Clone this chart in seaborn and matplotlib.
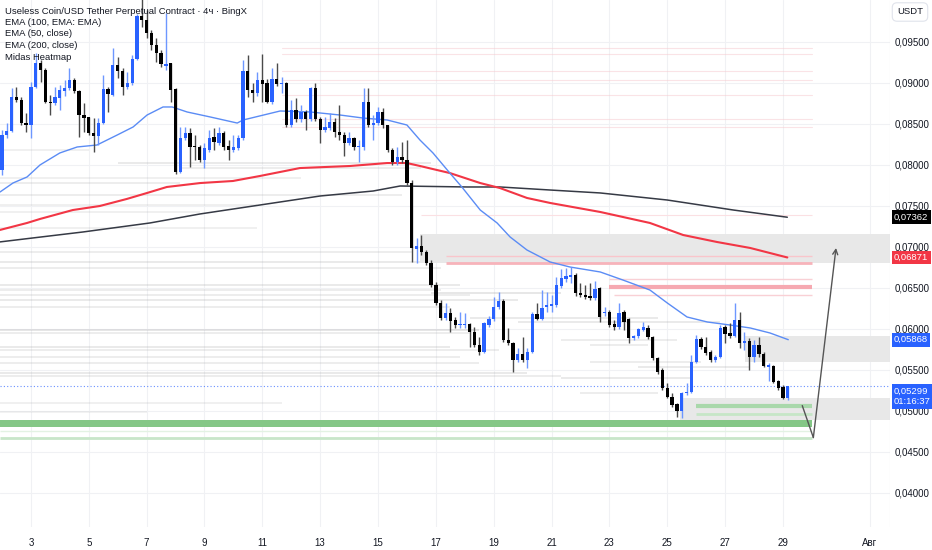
import numpy as np
import pandas as pd
import matplotlib
matplotlib.use("Agg")
import matplotlib.pyplot as plt
import seaborn as sns
from matplotlib.ticker import FuncFormatter

sns.set_style("white")
plt.rcParams['font.family'] = ['Liberation Sans', 'DejaVu Sans']

# ---- 4h candles, day 2 00:00 .. day 29 04:00 ----
opens = [
    0.07938, 0.08365, 0.08414, 0.08829, 0.08792, 0.08511, 0.08487, 0.08951, 0.09243, 0.09158,
    0.08768, 0.08756, 0.08816, 0.08902, 0.08938, 0.09036, 0.08902, 0.08609, 0.08585, 0.08389,
    0.08353, 0.08511, 0.08926, 0.08853, 0.09219, 0.09146, 0.08951, 0.09000, 0.09292, 0.09817,
    0.09768, 0.09609, 0.09463, 0.09365, 0.09207, 0.09243, 0.08926, 0.07914, 0.08328, 0.08389,
    0.08231, 0.08219, 0.08060, 0.08182, 0.08341, 0.08267, 0.08389, 0.08231, 0.08182, 0.08206,
    0.08328, 0.09146, 0.08914, 0.08877, 0.09036, 0.09000, 0.08768, 0.09048, 0.08987, 0.09000,
    0.08487, 0.08670, 0.08560, 0.08646, 0.08560, 0.08938, 0.08560, 0.08426, 0.08450, 0.08524,
    0.08402, 0.08365, 0.08267, 0.08328, 0.08219, 0.08219, 0.08768, 0.08487, 0.08511, 0.08646,
    0.08487, 0.08182, 0.08036, 0.08097, 0.08060, 0.07779, 0.06974, 0.07011, 0.06938, 0.06804,
    0.06535, 0.06316, 0.06133, 0.06194, 0.06108, 0.06047, 0.06047, 0.06060, 0.05962, 0.05803,
    0.05718, 0.06047, 0.06120, 0.06267, 0.06340, 0.05864, 0.05828, 0.05620, 0.05694, 0.05620,
    0.05718, 0.06181, 0.06120, 0.06267, 0.06279, 0.06291, 0.06523, 0.06608, 0.06633, 0.06657,
    0.06438, 0.06413, 0.06401, 0.06377, 0.06499, 0.06194, 0.06206, 0.06060, 0.06023, 0.06206,
    0.06120, 0.05889, 0.05913, 0.05986, 0.06011, 0.05901, 0.05645, 0.05498, 0.05279, 0.05169,
    0.05084, 0.04998, 0.05218, 0.05230, 0.05596, 0.05876, 0.05779, 0.05718, 0.05620, 0.05657,
    0.06023, 0.05950, 0.05913, 0.06108, 0.05828, 0.05852, 0.05657, 0.05803, 0.05694, 0.05535,
    0.05547, 0.05364, 0.05291, 0.05157]
closes = [
    0.08365, 0.08414, 0.08829, 0.08792, 0.08511, 0.08487, 0.08951, 0.09243, 0.09158, 0.08768,
    0.08756, 0.08829, 0.08914, 0.08938, 0.09036, 0.08902, 0.08609, 0.08572, 0.08389, 0.08353,
    0.08511, 0.08926, 0.08865, 0.09219, 0.09146, 0.08951, 0.09000, 0.09292, 0.09817, 0.09768,
    0.09609, 0.09463, 0.09365, 0.09231, 0.09231, 0.08914, 0.07914, 0.08328, 0.08389, 0.08219,
    0.08219, 0.08060, 0.08206, 0.08328, 0.08280, 0.08389, 0.08219, 0.08182, 0.08219, 0.08328,
    0.09146, 0.08914, 0.08877, 0.09036, 0.08987, 0.08768, 0.09048, 0.08987, 0.09000, 0.08487,
    0.08670, 0.08560, 0.08646, 0.08560, 0.08938, 0.08560, 0.08426, 0.08463, 0.08524, 0.08402,
    0.08365, 0.08267, 0.08328, 0.08219, 0.08231, 0.08768, 0.08487, 0.08511, 0.08646, 0.08487,
    0.08182, 0.08036, 0.08097, 0.08060, 0.07779, 0.06987, 0.07011, 0.06938, 0.06804, 0.06535,
    0.06316, 0.06133, 0.06194, 0.06096, 0.06047, 0.06060, 0.06060, 0.05962, 0.05803, 0.05718,
    0.06072, 0.06120, 0.06267, 0.06340, 0.05864, 0.05828, 0.05620, 0.05694, 0.05620, 0.05718,
    0.06181, 0.06120, 0.06255, 0.06291, 0.06304, 0.06535, 0.06621, 0.06645, 0.06657, 0.06438,
    0.06413, 0.06389, 0.06377, 0.06486, 0.06145, 0.06206, 0.06047, 0.06023, 0.06194, 0.06084,
    0.05889, 0.05913, 0.05999, 0.06023, 0.05901, 0.05645, 0.05474, 0.05279, 0.05169, 0.05071,
    0.04998, 0.05218, 0.05230, 0.05596, 0.05876, 0.05779, 0.05706, 0.05620, 0.05657, 0.06011,
    0.05938, 0.05913, 0.06108, 0.05828, 0.05852, 0.05657, 0.05803, 0.05694, 0.05547, 0.05559,
    0.05352, 0.05279, 0.05157, 0.05299]
highs = [
    0.08426, 0.08511, 0.08938, 0.08951, 0.08829, 0.08633, 0.09012, 0.09365, 0.09280, 0.09182,
    0.08853, 0.08951, 0.08975, 0.09036, 0.09182, 0.09060, 0.08914, 0.08756, 0.08585, 0.08572,
    0.08572, 0.09097, 0.08951, 0.09426, 0.09316, 0.09182, 0.09134, 0.09341, 0.09841, 0.10050,
    0.09890, 0.09646, 0.09548, 0.09402, 0.09853, 0.09243, 0.08938, 0.08463, 0.08463, 0.08450,
    0.08365, 0.08243, 0.08267, 0.08426, 0.08450, 0.08463, 0.08414, 0.08304, 0.08365, 0.08365,
    0.09280, 0.09341, 0.09000, 0.09134, 0.09353, 0.09048, 0.09182, 0.09243, 0.09073, 0.09012,
    0.08792, 0.08816, 0.08731, 0.08670, 0.08951, 0.09000, 0.08585, 0.08585, 0.08633, 0.08572,
    0.08731, 0.08402, 0.08402, 0.08341, 0.08304, 0.08938, 0.08938, 0.08609, 0.08707, 0.08694,
    0.08487, 0.08206, 0.08219, 0.08280, 0.08304, 0.07816, 0.07108, 0.07145, 0.06962, 0.06840,
    0.06572, 0.06352, 0.06316, 0.06255, 0.06145, 0.06206, 0.06194, 0.06072, 0.06023, 0.05901,
    0.06084, 0.06157, 0.06389, 0.06450, 0.06364, 0.06011, 0.05840, 0.05767, 0.05901, 0.05767,
    0.06206, 0.06316, 0.06474, 0.06450, 0.06413, 0.06633, 0.06730, 0.06743, 0.06755, 0.06682,
    0.06560, 0.06535, 0.06560, 0.06584, 0.06511, 0.06267, 0.06230, 0.06108, 0.06316, 0.06230,
    0.06133, 0.05925, 0.06011, 0.06084, 0.06047, 0.05913, 0.05657, 0.05523, 0.05340, 0.05218,
    0.05096, 0.05230, 0.05340, 0.05681, 0.05925, 0.05901, 0.05901, 0.05742, 0.05681, 0.06047,
    0.06047, 0.06072, 0.06316, 0.06206, 0.05962, 0.05889, 0.05864, 0.05901, 0.05718, 0.05584,
    0.05559, 0.05376, 0.05316, 0.05303]
lows = [
    0.07877, 0.08328, 0.08402, 0.08768, 0.08487, 0.08402, 0.08328, 0.08938, 0.09012, 0.08756,
    0.08609, 0.08731, 0.08670, 0.08841, 0.08914, 0.08877, 0.08341, 0.08402, 0.08365, 0.08158,
    0.08243, 0.08499, 0.08646, 0.08841, 0.09060, 0.08853, 0.08926, 0.08975, 0.09280, 0.09683,
    0.09548, 0.09402, 0.09256, 0.09195, 0.09158, 0.08768, 0.07889, 0.07901, 0.08304, 0.07975,
    0.08060, 0.08036, 0.07962, 0.08158, 0.08182, 0.08243, 0.08182, 0.08060, 0.08158, 0.08182,
    0.08304, 0.08829, 0.08768, 0.08841, 0.08768, 0.08756, 0.08743, 0.08963, 0.08877, 0.08463,
    0.08463, 0.08524, 0.08524, 0.08426, 0.08536, 0.08536, 0.08267, 0.08402, 0.08426, 0.08341,
    0.08304, 0.08109, 0.08243, 0.08182, 0.08036, 0.08182, 0.08463, 0.08304, 0.08487, 0.08450,
    0.08158, 0.07999, 0.07999, 0.08023, 0.07755, 0.06816, 0.06804, 0.06901, 0.06779, 0.06511,
    0.06291, 0.06108, 0.06108, 0.05962, 0.06011, 0.06011, 0.06011, 0.05779, 0.05779, 0.05681,
    0.05706, 0.06023, 0.06096, 0.06243, 0.05840, 0.05803, 0.05474, 0.05596, 0.05596, 0.05523,
    0.05706, 0.06108, 0.06108, 0.06206, 0.06206, 0.06267, 0.06499, 0.06572, 0.06560, 0.06401,
    0.06389, 0.06364, 0.06352, 0.06352, 0.06084, 0.06157, 0.06023, 0.05986, 0.05999, 0.05986,
    0.05828, 0.05864, 0.05889, 0.05974, 0.05877, 0.05620, 0.05450, 0.05254, 0.05157, 0.05047,
    0.04925, 0.04913, 0.05193, 0.05218, 0.05584, 0.05755, 0.05681, 0.05596, 0.05596, 0.05645,
    0.05828, 0.05889, 0.05901, 0.05767, 0.05742, 0.05498, 0.05596, 0.05657, 0.05535, 0.05364,
    0.05340, 0.05254, 0.05145, 0.05132]

# ---- moving averages (candle index / price) ----
ema50_x = [-0.4, 2.3, 5.2, 7.9, 12.0, 15.6, 19.7, 23.9, 27.2, 30.1, 33.4, 35.3, 38.4, 43.2,
           48.8, 50.0, 57.7, 63.9, 70.1, 74.9, 79.9, 84.0, 86.7, 89.4, 92.9, 95.4, 99.2,
           102.7, 105.4, 108.9, 113.7, 117.8, 124.1, 128.8, 134.4, 138.0, 142.1, 146.3,
           151.0, 155.2, 159.3, 163.1]
ema50_y = [0.07670, 0.07780, 0.07853, 0.08000, 0.08146, 0.08219, 0.08243, 0.08365, 0.08463,
           0.08609, 0.08707, 0.08707, 0.08646, 0.08585, 0.08511, 0.08548, 0.08658, 0.08646,
           0.08609, 0.08572, 0.08548, 0.08487, 0.08304, 0.08146, 0.07901, 0.07730, 0.07450,
           0.07292, 0.07121, 0.06962, 0.06816, 0.06755, 0.06694, 0.06596, 0.06474, 0.06316,
           0.06145, 0.06084, 0.06047, 0.06011, 0.05950, 0.05868]
ema_red_x = [-0.4, 5.2, 7.9, 14.7, 20.3, 25.9, 30.1, 34.2, 41.1, 47.9, 53.5, 61.8, 72.2,
             79.9, 84.0, 86.7, 92.9, 99.2, 103.3, 108.9, 113.7, 124.1, 134.4, 141.3,
             148.3, 155.2, 162.9]
ema_red_y = [0.07207, 0.07292, 0.07341, 0.07450, 0.07499, 0.07585, 0.07658, 0.07731, 0.07779,
             0.07804, 0.07865, 0.07962, 0.07987, 0.08023, 0.08023, 0.07987, 0.07901, 0.07779,
             0.07718, 0.07597, 0.07536, 0.07426, 0.07292, 0.07145, 0.07060, 0.06987, 0.06871]
ema_blk_x = [-0.4, 6.4, 16.8, 30.7, 41.1, 53.5, 66.0, 77.0, 82.6, 96.5, 103.3, 113.7, 124.1,
             138.0, 151.7, 162.9]
ema_blk_y = [0.07061, 0.07109, 0.07182, 0.07292, 0.07402, 0.07511, 0.07621, 0.07682, 0.07743,
             0.07731, 0.07731, 0.07694, 0.07658, 0.07572, 0.07450, 0.07362]

# ---- heatmap levels (price, from, to, strength) ----
hm_level = [0.08182, 0.08024, 0.07963, 0.07841, 0.07780, 0.07633, 0.07511, 0.07426, 0.07231,
            0.06939, 0.06817, 0.06744, 0.06537, 0.06476, 0.06415, 0.06354, 0.06268, 0.05988,
            0.05951, 0.05780, 0.05744, 0.05658, 0.05585, 0.05463, 0.05426, 0.06439, 0.06134,
            0.06085, 0.05866, 0.05805, 0.05598, 0.05537, 0.05402, 0.05219, 0.05097, 0.04987]
hm_from = [-0.4, 24, 37, -0.4, -0.4, -0.4, -0.4, -0.4, -0.4, -0.4, -0.4, -0.4, -0.4, -0.4,
           -0.4, -0.4, -0.4, -0.4, -0.4, -0.4, -0.4, -0.4, -0.4, -0.4, -0.4, 89, 97, 107,
           116, 122, 122, 132, 116, 120, -0.4, -0.4]
hm_to = [18, 89, 87, 62, 37, 83, 53, 41, 53, 85, 89, 91, 95, 91, 97, 107, 93, 99, 97, 93,
         103, 95, 99, 109, 116, 116, 136, 149, 140, 134, 145, 155, 143, 136, 58, 30]
hm_alpha = [0.25, 0.35, 0.3, 0.25, 0.3, 0.3, 0.25, 0.25, 0.25, 0.3, 0.35, 0.3, 0.35, 0.3,
            0.3, 0.35, 0.3, 0.4, 0.3, 0.35, 0.3, 0.3, 0.3, 0.35, 0.3, 0.4, 0.35, 0.35, 0.3,
            0.3, 0.3, 0.35, 0.35, 0.3, 0.25, 0.2]
pink_faint = [0.09427, 0.09353, 0.09146, 0.09036, 0.08853, 0.08560, 0.08463]

# ---- zones ----
zone_lo = [0.06804, 0.05596, 0.04888]
zone_hi = [0.07157, 0.05913, 0.05157]
zone_from = [86.7, 154.1, 140.7]
pink_level = [0.07389, 0.06889, 0.06804, 0.06608, 0.06511, 0.06413]
pink_from = [87, 92, 92, 126, 126, 127]
pink_lw = [0.8, 1.0, 2.0, 1.0, 3.0, 1.0]
pink_col = ['#fbe0e3', '#f9c5cb', '#f7b3ba', '#f9d0d5', '#f6a9b1', '#f9d0d5']
green_band = (0.04803, 0.04888)
green_level = [0.05059, 0.04961, 0.04754, 0.04669]
green_from = [144, 144, -0.4, -0.4]
green_lw = [3.0, 2.0, 1.0, 2.0]
green_col = ['#a9d8ab', '#c6e6c7', '#e3f2e3', '#c8e6c9']
lines_to = 168

arrow_x = [166.0, 168.3, 173.0]
arrow_y = [0.05064, 0.04674, 0.06987]

last_price = 0.05299
days = list(range(3, 30, 2))
day_pos = [(d - 2) * 6 for d in days]
aug_pos = 180

df = pd.DataFrame({"o": opens, "h": highs, "l": lows, "c": closes})
df["i"] = np.arange(len(df))
up = df["c"] >= df["o"]

fig = plt.figure(figsize=(9.32, 5.5), dpi=100)
ax = fig.add_axes([0, 23 / 550, 890 / 932, 527 / 550])
XMIN, XMAX = -0.41, 184.2
ax.set_xlim(XMIN, XMAX)
ax.set_ylim(0.03583, 0.10012)

# grid
for p in day_pos + [aug_pos]:
    ax.axvline(p, color='#f0f1f4', lw=0.8, zorder=0)
for v in np.arange(0.040, 0.0951, 0.005):
    ax.axhline(v, color='#f0f1f4', lw=0.8, zorder=0)

# heatmap
for lv, a, b, al in zip(hm_level, hm_from, hm_to, hm_alpha):
    ax.plot([a, b], [lv, lv], color='#a8a8a8', lw=1.3, alpha=al * 0.75, zorder=1,
            solid_capstyle='butt')
for lv in pink_faint:
    ax.plot([58, lines_to], [lv, lv], color='#f7c9ce', lw=0.8, alpha=0.5, zorder=1)

# zones
for lo, hi, a in zip(zone_lo, zone_hi, zone_from):
    ax.fill_between([a, XMAX], lo, hi, color='#e8e8e8', lw=0, zorder=2)
for lv, a, w, c in zip(pink_level, pink_from, pink_lw, pink_col):
    ax.plot([a, lines_to], [lv, lv], color=c, lw=w, zorder=3, solid_capstyle='butt')
ax.fill_between([XMIN, lines_to], green_band[0], green_band[1], color='#84c786', lw=0, zorder=3)
for lv, a, w, c in zip(green_level, green_from, green_lw, green_col):
    ax.plot([a, lines_to], [lv, lv], color=c, lw=w, zorder=3, solid_capstyle='butt')

# EMAs
sns.lineplot(x=ema_blk_x, y=ema_blk_y, ax=ax, color='#363a45', lw=1.1, sort=False,
             estimator=None, zorder=4)
sns.lineplot(x=ema_red_x, y=ema_red_y, ax=ax, color='#f23645', lw=1.5, sort=False,
             estimator=None, zorder=4)
sns.lineplot(x=ema50_x, y=ema50_y, ax=ax, color='#5b8cf5', lw=1.0, sort=False,
             estimator=None, zorder=4)

# current price line
ax.axhline(last_price, color='#2962ff', ls=(0, (1, 2)), lw=0.8, alpha=0.7, zorder=4)

# candles
body_col = np.where(up, '#2962ff', '#000000')
wick_col = np.where(up, '#6d97ff', '#4a4a4a')
ax.vlines(df["i"], df["l"], df["h"], colors=wick_col, lw=1.0, zorder=5)
bottom = df[["o", "c"]].min(axis=1)
height = (df["c"] - df["o"]).abs().clip(lower=0.00005)
ax.bar(df["i"], height, bottom=bottom, width=0.68, color=body_col, lw=0, zorder=6)

# projection arrow
ax.plot(arrow_x[:2], arrow_y[:2], color='#555555', lw=1.0, zorder=7)
ax.annotate('', xy=(arrow_x[2], arrow_y[2]), xytext=(arrow_x[1], arrow_y[1]),
            arrowprops=dict(arrowstyle='->', color='#555555', lw=1.0,
                            shrinkA=0, shrinkB=0, mutation_scale=9), zorder=7)

# axes styling
for s in ax.spines.values():
    s.set_visible(False)
ax.axvline(XMAX, color='#e0e3eb', lw=0.8)
ax.yaxis.tick_right()
ax.set_yticks(np.arange(0.040, 0.0951, 0.005))
ax.yaxis.set_major_formatter(FuncFormatter(lambda v, p: f"{v:.5f}".replace('.', ',')))
ax.set_xticks(day_pos + [aug_pos])
ax.set_xticklabels([str(d) for d in days] + ['Авг'])
ax.tick_params(axis='both', length=0, labelsize=7, colors='#131722')
ax.tick_params(axis='x', pad=8)
ax.tick_params(axis='y', pad=3.5)
ax.set_xlabel('')
ax.set_ylabel('')

# price tags on the scale
tags = [(0.07362, '0,07362', '#000000'), (0.06871, '0,06871', '#f23645'),
        (0.05868, '0,05868', '#2962ff'), (last_price, '0,05299\n01:16:37', '#2962ff')]
for v, s, c in tags:
    ax.text(1.0045, v, s, transform=ax.get_yaxis_transform(), ha='left',
            va='top' if '\n' in s else 'center', fontsize=6.8, color='white',
            linespacing=1.3,
            bbox=dict(boxstyle='square,pad=0.25', fc=c, ec='none'), clip_on=False, zorder=10)

fig.text(910 / 932, 1 - 12 / 550, 'USDT', fontsize=6.8, color='#131722', ha='center',
         va='center', bbox=dict(boxstyle='round,pad=0.5', fc='white', ec='#e0e3eb', lw=0.8))

legend_lines = ['Useless Coin/USD Tether Perpetual Contract · 4ч · BingX',
                'EMA (100, EMA: EMA)', 'EMA (50, close)', 'EMA (200, close)', 'Midas Heatmap']
for k, t in enumerate(legend_lines):
    fig.text(5 / 932, 1 - (11 + k * 11.5) / 550, t, fontsize=6.8, color='#131722',
             va='center', ha='left')

fig.savefig('out.png', dpi=100)
